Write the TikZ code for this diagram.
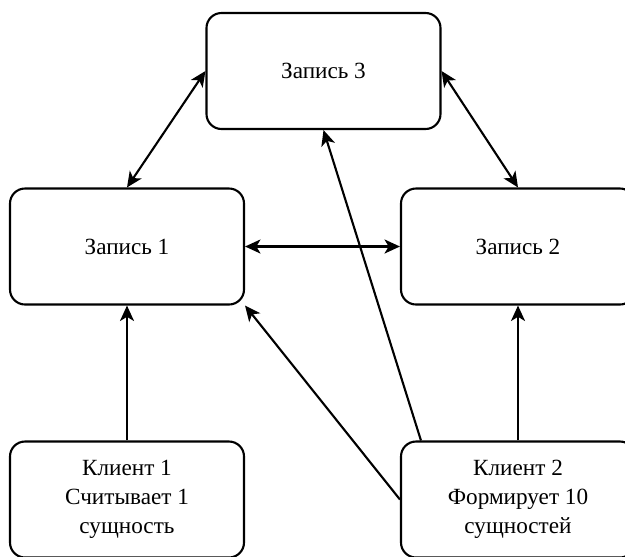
\documentclass[tikz,border=0pt]{standalone}
\usepackage{fontspec}
\setmainfont{Liberation Serif}
\usetikzlibrary{arrows.meta}

\tikzset{
	record/.style = {draw, line width = 1.5pt, rounded corners = 0.375cm, minimum width = 5.85cm, minimum height = 2.9cm, inner sep = 0pt, align = center, font = \fontsize{16.5}{20.5}\selectfont},
	link/.style = {line width = 1.5pt, -{Stealth[length = 11pt, width = 10pt, inset = 3pt]}},
	both/.style = {line width = 1.5pt, {Stealth[length = 11pt, width = 10pt, inset = 3pt]}-{Stealth[length = 11pt, width = 10pt, inset = 3pt]}}
}

\begin{document}
\begin{tikzpicture}
			\def\W{15.625};
			\def\H{13.9};

			\useasboundingbox (0,0) rectangle (\W,-\H);
			\clip (0,0) rectangle (\W,-\H);

			\begin{scope}
				\node [record] (rec3) at (8.0875,-1.775) {Запись 3};
				\node [record] (rec1) at (3.175,-6.1625) {Запись 1};
				\node [record] (rec2) at (12.95,-6.1625) {Запись 2};
				\node [record] (cl1) at (3.175,-12.4875) {Клиент 1\\Считывает 1\\сущность};
				\node [record] (cl2) at (12.95,-12.4875) {Клиент 2\\Формирует 10\\сущностей};
			\end{scope}

			\begin{scope}[both]
				\draw (rec1.north) -- (rec3.west);
				\draw (rec3.east) -- (rec2.north);
				\draw (rec1.east) -- (rec2.west);
			\end{scope}

			\begin{scope}[link]
				\draw (cl1.north) -- (rec1.south);
				\draw (cl2.north) -- (rec2.south);
				\draw (cl2.west) -- (rec1.south east);
				\draw ([xshift = 0.525cm]cl2.north west) -- (rec3.south);
			\end{scope}
		\end{tikzpicture}
\end{document}
